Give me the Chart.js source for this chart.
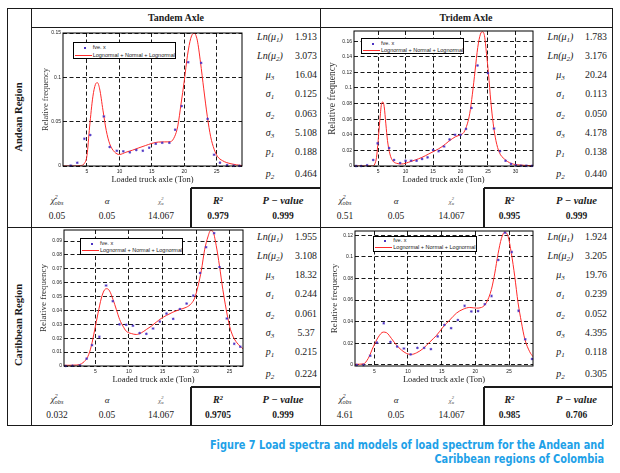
<!DOCTYPE html>
<html>
<head>
<meta charset="utf-8">
<script src="https://cdn.jsdelivr.net/npm/chart.js@4.4.1/dist/chart.umd.min.js"></script>
<style>
  html, body { margin: 0; padding: 0; background: #fff; }
  #page { position: relative; width: 620px; height: 473px; overflow: hidden; font-family: "Liberation Serif", serif; color: #1a1a1a; }
  .t { position: absolute; transform: translate(-50%, -50%); white-space: nowrap; line-height: 1; }
  .hl, .vl { position: absolute; background: #1a1a1a; }
  canvas { position: absolute; }
  .head { font-weight: bold; font-size: 10px; }
  .region { font-weight: bold; font-size: 10.5px; transform: translate(-50%, -50%) rotate(-90deg); }
  .plab { font-style: italic; font-size: 10px; }
  .pval { font-size: 9.8px; }
  .slab { font-size: 9px; font-style: italic; }
  .sval { font-size: 9.5px; }
  .bold { font-weight: bold; }
  .tiny { font-size: 6.5px; color: #444; }
  sub { font-size: 70%; vertical-align: -0.3em; line-height: 0; }
  sup { font-size: 70%; vertical-align: 0.45em; line-height: 0; }
  .st { display: inline-flex; flex-direction: column; vertical-align: middle; font-size: 70%; line-height: 1; font-style: italic; }
  .lg { position: absolute; border: 1px solid #000; background: #fff; box-sizing: border-box; font-family: "Liberation Sans", sans-serif; font-size: 5.5px; }
  .lg .mk { position: absolute; width: 2px; height: 2px; background: #4b32c3; }
  .lg .ln { position: absolute; height: 1px; background: #ff2a2a; }
  .lg .tx { position: absolute; line-height: 1; white-space: nowrap; }
  .cap { position: absolute; right: 16px; font-family: "DejaVu Sans Condensed", sans-serif; font-weight: bold; font-size: 12.5px; color: #1ea1e8; white-space: nowrap; transform-origin: right center; transform: scaleX(0.87); line-height: 1; }
</style>
</head>
<body>
<div id="page"></div>
<script>
// ---- Data ----
const andeanTandemObsX = [2.5, 3.5, 4.6, 5.5, 7.6, 8.5, 9.6, 10.6, 11.6, 12.6, 13.6, 14.6, 15.6, 16.6, 17.7, 18.6, 19.6, 20.6, 22.6, 23.6, 24.6, 25.5, 26.6, 27.6, 28.5];
const andeanTandemObsY = [0.0005, 0.0037, 0.0307, 0.0349, 0.0559, 0.0214, 0.0172, 0.0165, 0.0154, 0.018, 0.0172, 0.0206, 0.0251, 0.0262, 0.0262, 0.0409, 0.0675, 0.117, 0.1163, 0.0532, 0.0127, 0.0037, 0.001, 0.0003, 0.0002];
const andeanTandemFitX = [1.3, 3, 4, 4.6, 5.0, 5.4, 5.9, 6.3, 6.6, 6.95, 7.46, 7.97, 8.5, 9.26, 10, 11, 12, 13, 14, 15, 16, 17, 17.9, 18.5, 19.0, 19.5, 20.0, 20.5, 21.0, 21.5, 22.0, 22.5, 23.0, 23.55, 24.07, 24.6, 25.1, 25.9, 27.2, 28.9];
const andeanTandemFitY = [0, 0, 0.0005, 0.003, 0.012, 0.044, 0.078, 0.092, 0.094, 0.087, 0.063, 0.040, 0.025, 0.0157, 0.013, 0.0155, 0.0178, 0.0205, 0.023, 0.0255, 0.027, 0.0272, 0.0275, 0.033, 0.045, 0.07, 0.096, 0.125, 0.144, 0.150, 0.142, 0.117, 0.087, 0.056, 0.033, 0.019, 0.011, 0.006, 0.0025, 0.0005];
const andeanTandemXTicks = [5, 10, 15, 20, 25];
const andeanTandemYTicks = [0, 0.05, 0.1, 0.15];

const andeanTridemObsX = [1.0, 1.9, 3.0, 4.1, 4.9, 7.0, 7.9, 9.0, 10.0, 11.0, 12.0, 13.0, 14.0, 15.0, 16.0, 17.0, 18.0, 19.0, 20.0, 21.0, 22.0, 23.1, 25.0, 26.1, 27.2, 28.2, 29.2, 30.1, 31.0, 32.0, 33.0];
const andeanTridemObsY = [0, 0, 0.001, 0.0077, 0.029, 0.023, 0.0077, 0.0038, 0.0068, 0.0068, 0.0068, 0.009, 0.011, 0.0205, 0.019, 0.025, 0.034, 0.040, 0.040, 0.0475, 0.0744, 0.1288, 0.119, 0.048, 0.019, 0.0068, 0.0026, 0.001, 0.0005, 0.0003, 0.0002];
const andeanTridemFitX = [0.6, 4.0, 4.39, 4.7, 5.0, 5.3, 5.6, 5.86, 6.1, 6.4, 6.7, 7.14, 7.63, 8.37, 9.3, 10.5, 11.74, 12.97, 14.2, 15.4, 16.64, 17.87, 19.1, 20.0, 20.6, 21.24, 21.67, 22.16, 22.65, 23.14, 23.63, 24.0, 24.36, 24.73, 25.1, 25.5, 25.96, 26.45, 27.06, 27.98, 29.2, 30.7, 33.2];
const andeanTridemFitY = [0, 0, 0.0026, 0.011, 0.0325, 0.058, 0.079, 0.082, 0.076, 0.054, 0.0325, 0.0154, 0.0068, 0.0034, 0.0026, 0.0047, 0.0077, 0.011, 0.0154, 0.0197, 0.0248, 0.0317, 0.0376, 0.040, 0.043, 0.054, 0.067, 0.092, 0.122, 0.152, 0.169, 0.172, 0.167, 0.144, 0.118, 0.084, 0.054, 0.0325, 0.0175, 0.009, 0.0034, 0.0013, 0.0004];
const andeanTridemXTicks = [5, 10, 15, 20, 25, 30];
const andeanTridemYTicks = [0, 0.02, 0.04, 0.06, 0.08, 0.1, 0.12, 0.14, 0.16];

const caribTandemObsX = [0.6, 1.6, 2.7, 3.7, 4.5, 5.6, 6.6, 7.6, 8.6, 9.6, 10.6, 11.6, 12.6, 13.6, 14.6, 15.6, 16.6, 17.6, 18.6, 19.6, 20.6, 21.5, 22.7, 23.5, 24.6, 25.7, 26.6];
const caribTandemObsY = [0, 0.0002, 0.0005, 0.0053, 0.015, 0.021, 0.058, 0.0467, 0.030, 0.0297, 0.029, 0.0237, 0.0232, 0.027, 0.032, 0.0378, 0.034, 0.041, 0.045, 0.0507, 0.067, 0.0856, 0.0957, 0.0713, 0.0342, 0.016, 0.0139];
const caribTandemFitX = [0.33, 2.17, 3.16, 3.9, 4.4, 4.9, 5.4, 5.9, 6.39, 6.74, 7.13, 7.63, 8.13, 8.62, 9.12, 9.6, 10.36, 11.1, 11.85, 12.6, 13.34, 14.08, 14.8, 15.57, 16.56, 17.56, 18.55, 19.3, 19.8, 20.29, 20.8, 21.28, 21.77, 22.17, 22.52, 23.0, 23.5, 24.0, 24.5, 25.0, 25.5, 26.1, 27.0];
const caribTandemFitY = [0.0005, 0.0007, 0.0024, 0.007, 0.0144, 0.026, 0.038, 0.049, 0.055, 0.0557, 0.054, 0.048, 0.0407, 0.0335, 0.0287, 0.0251, 0.0234, 0.0227, 0.0239, 0.0263, 0.0287, 0.0316, 0.0342, 0.0364, 0.0388, 0.0407, 0.0423, 0.045, 0.049, 0.0574, 0.069, 0.0837, 0.093, 0.0976, 0.0969, 0.087, 0.072, 0.055, 0.0407, 0.0287, 0.0215, 0.0167, 0.0124];
const caribTandemXTicks = [5, 10, 15, 20, 25];
const caribTandemYTicks = [0, 0.01, 0.02, 0.03, 0.04, 0.05, 0.06, 0.07, 0.08, 0.09];

const caribTridemObsX = [2.4, 3.4, 4.4, 5.4, 6.4, 7.4, 8.4, 9.4, 10.4, 11.4, 12.4, 13.4, 14.4, 15.4, 16.4, 17.4, 18.4, 19.4, 20.4, 21.4, 22.4, 23.4, 24.4, 25.4, 26.4, 27.4, 28.4];
const caribTridemObsY = [0, 0, 0.0085, 0.0207, 0.0386, 0.0213, 0.017, 0.0152, 0.0097, 0.0158, 0.0158, 0.0146, 0.0264, 0.037, 0.034, 0.0416, 0.0547, 0.0495, 0.0498, 0.0562, 0.0638, 0.0972, 0.1224, 0.1045, 0.0501, 0.0237, 0.0055];
const caribTridemFitX = [2.14, 3.37, 4.1, 4.85, 5.6, 6.33, 6.83, 7.57, 8.3, 9.05, 9.79, 10.5, 11.27, 12.26, 13.25, 14.23, 15.2, 16.2, 17.2, 18.19, 19.17, 20.16, 20.9, 21.64, 22.38, 22.88, 23.37, 23.86, 24.36, 24.85, 25.35, 25.84, 26.33, 26.83, 27.32, 28.06, 28.55];
const caribTridemFitY = [0.0006, 0.0009, 0.006, 0.0167, 0.0258, 0.0304, 0.0298, 0.0243, 0.0182, 0.0137, 0.0106, 0.0097, 0.0112, 0.0152, 0.0213, 0.0273, 0.035, 0.0416, 0.048, 0.0516, 0.0532, 0.0526, 0.0532, 0.0577, 0.0699, 0.085, 0.103, 0.117, 0.123, 0.119, 0.103, 0.082, 0.0577, 0.0395, 0.0243, 0.0122, 0.0076];
const caribTridemXTicks = [5, 10, 15, 20, 25];
const caribTridemYTicks = [0, 0.02, 0.04, 0.06, 0.08, 0.1, 0.12];

// model parameters: Ln(mu1), Ln(mu2), mu3, s1, s2, s3, p1, p2
const andeanTandemParams = ['1.913', '3.073', '16.04', '0.125', '0.063', '5.108', '0.188', '0.464'];
const andeanTridemParams = ['1.783', '3.176', '20.24', '0.113', '0.050', '4.178', '0.138', '0.440'];
const caribTandemParams = ['1.955', '3.108', '18.32', '0.244', '0.061', '5.37', '0.215', '0.224'];
const caribTridemParams = ['1.924', '3.205', '19.76', '0.239', '0.052', '4.395', '0.118', '0.305'];

// goodness of fit: chi2 obs, alpha, chi2 alpha, R2, P-value
const andeanTandemStats = ['0.05', '0.05', '14.067', '0.979', '0.999'];
const andeanTridemStats = ['0.51', '0.05', '14.067', '0.995', '0.999'];
const caribTandemStats = ['0.032', '0.05', '14.067', '0.9705', '0.999'];
const caribTridemStats = ['4.61', '0.05', '14.067', '0.985', '0.706'];

const paramLabels = [
  'Ln(μ<sub>1</sub>)', 'Ln(μ<sub>2</sub>)', 'μ<sub>3</sub>', 'σ<sub>1</sub>',
  'σ<sub>2</sub>', 'σ<sub>3</sub>', 'p<sub>1</sub>', 'p<sub>2</sub>'
];
const statLabels = [
  '<span class="slab">χ<span class="st"><span>2</span><span>obs</span></span></span>',
  '<span class="slab">α</span>',
  '<span class="tiny"><i>χ</i><span class="st"><span>2</span><span>α</span></span></span>',
  '<b><i style="font-size:10px">R<sup>2</sup></i></b>',
  '<b><i style="font-size:10.5px">P − value</i></b>'
];
const legendLabels = ['fve. x', 'Lognormal + Normal + Lognormal'];

// ---- Layout ----
const page = document.getElementById('page');

const panels = [
  { obsX: andeanTandemObsX, obsY: andeanTandemObsY, fitX: andeanTandemFitX, fitY: andeanTandemFitY,
    xTicks: andeanTandemXTicks, yTicks: andeanTandemYTicks, params: andeanTandemParams, stats: andeanTandemStats,
    plot: [63, 31, 242, 166], xMin: 1.3, xMax: 28.9, yMin: 0, yMax: 0.15, titleX: 45.7, ySize: 8.3,
    legend: [72.7, 42.3, 103.5, 17], col: 0, row: 0 },
  { obsX: andeanTridemObsX, obsY: andeanTridemObsY, fitX: andeanTridemFitX, fitY: andeanTridemFitY,
    xTicks: andeanTridemXTicks, yTicks: andeanTridemYTicks, params: andeanTridemParams, stats: andeanTridemStats,
    plot: [354, 29, 533, 166], xMin: 0.6, xMax: 33.2, yMin: 0, yMax: 0.173, titleX: 333, ySize: 9.6,
    legend: [361, 38.3, 103, 15.7], col: 1, row: 0 },
  { obsX: caribTandemObsX, obsY: caribTandemObsY, fitX: caribTandemFitX, fitY: caribTandemFitY,
    xTicks: caribTandemXTicks, yTicks: caribTandemYTicks, params: caribTandemParams, stats: caribTandemStats,
    plot: [64, 228, 243, 366], xMin: 0.33, xMax: 27, yMin: 0, yMax: 0.098, titleX: 43.3, ySize: 9,
    legend: [80, 238.3, 103.3, 16.7], col: 0, row: 1 },
  { obsX: caribTridemObsX, obsY: caribTridemObsY, fitX: caribTridemFitX, fitY: caribTridemFitY,
    xTicks: caribTridemXTicks, yTicks: caribTridemYTicks, params: caribTridemParams, stats: caribTridemStats,
    plot: [355, 229, 533, 366], xMin: 2.14, xMax: 28.55, yMin: -0.001, yMax: 0.124, titleX: 335, ySize: 9.2,
    legend: [373.3, 235.7, 103.4, 16], col: 1, row: 1 }
];

const rowTops = [27, 227];
const statLines = [188, 387];
const paramOffsets = [9.7, 28.9, 48.2, 67, 86.6, 105.5, 124.7, 147.3];
const paramLabelX = [270, 560.5];
const paramValueX = [306, 596];
const statX = [[57, 107, 161, 218, 283], [345, 396, 451.5, 509.5, 576.5]];
const statBoxX = [191, 484];
const colRight = [320, 612];

function put(html, x, y, cls) {
  const d = document.createElement('div');
  d.className = 't ' + (cls || '');
  d.style.left = x + 'px';
  d.style.top = y + 'px';
  d.innerHTML = html;
  page.appendChild(d);
  return d;
}

function hline(x1, x2, y, w) {
  const d = document.createElement('div');
  d.className = 'hl';
  w = w || 1;
  d.style.left = x1 + 'px'; d.style.width = (x2 - x1) + 'px';
  d.style.top = (y - w / 2) + 'px'; d.style.height = w + 'px';
  page.appendChild(d);
}

function vline(x, y1, y2, w) {
  const d = document.createElement('div');
  d.className = 'vl';
  w = w || 1;
  d.style.top = y1 + 'px'; d.style.height = (y2 - y1) + 'px';
  d.style.left = (x - w / 2) + 'px'; d.style.width = w + 'px';
  page.appendChild(d);
}

// table frame
hline(7, 612, 8);
hline(7, 612, 425);
vline(7, 8, 425);
vline(612, 8, 425);
vline(31, 8, 425);
vline(320, 8, 425);
hline(31, 612, 27);
hline(7, 612, 227);
statLines.forEach((y, r) => {
  const bottom = r === 0 ? 227 : 425;
  statBoxX.forEach((x, c) => {
    hline(x, colRight[c], y, 1.3);
    vline(x, y, bottom, 1.3);
  });
});

put('Tandem Axle', 176, 18, 'head');
put('Tridem Axle', 466, 18, 'head');
put('Andean Region', 19, 117, 'region');
put('Caribbean Region', 19, 325, 'region');

// solid frame around each plot area
const framePlugin = {
  id: 'frame',
  afterDatasetsDraw(chart) {
    const { ctx, chartArea: a } = chart;
    ctx.save();
    ctx.strokeStyle = '#000';
    ctx.lineWidth = 1;
    ctx.strokeRect(a.left, a.top, a.right - a.left, a.bottom - a.top);
    ctx.restore();
  }
};

function toPoints(xs, ys) {
  return xs.map((x, i) => ({ x: x, y: ys[i] }));
}

function buildPanel(p) {
  const [pl, pt, pr, pb] = p.plot;
  const half = p.ySize * 1.2 / 2;
  const left = Math.round(p.titleX - half);
  const yW = pl - left;
  const padTop = 3, padRight = 3, xH = 19;
  const top = pt - padTop;
  const width = pr + padRight - left;
  const height = pb + xH - top;

  const cv = document.createElement('canvas');
  cv.width = width; cv.height = height;
  cv.style.left = left + 'px'; cv.style.top = top + 'px';
  cv.style.width = width + 'px'; cv.style.height = height + 'px';
  page.appendChild(cv);

  const tickFont = { family: 'Liberation Sans', size: 5 };
  new Chart(cv, {
    type: 'scatter',
    data: {
      datasets: [
        {
          label: legendLabels[0],
          data: toPoints(p.obsX, p.obsY),
          pointStyle: 'star',
          pointRadius: 1.3,
          borderColor: '#4b32c3',
          backgroundColor: '#4b32c3',
          borderWidth: 0.8,
          clip: false
        },
        {
          type: 'line',
          label: legendLabels[1],
          data: toPoints(p.fitX, p.fitY),
          borderColor: '#ff2a2a',
          borderWidth: 1,
          pointRadius: 0,
          fill: false,
          cubicInterpolationMode: 'monotone'
        }
      ]
    },
    options: {
      responsive: false,
      maintainAspectRatio: false,
      animation: false,
      events: [],
      layout: { padding: { top: padTop, right: padRight, left: 0, bottom: 0 }, autoPadding: false },
      plugins: { legend: { display: false }, tooltip: { enabled: false } },
      scales: {
        x: {
          type: 'linear',
          min: p.xMin,
          max: p.xMax,
          afterFit: s => { s.height = xH; },
          afterBuildTicks: s => { s.ticks = p.xTicks.map(v => ({ value: v })); },
          ticks: { font: tickFont, color: '#222', padding: 3, maxRotation: 0, autoSkip: false, callback: v => String(v) },
          grid: { color: '#000', lineWidth: 0.9, drawTicks: false },
          border: { display: false, dash: [4, 2.5] },
          title: { display: true, text: 'Loaded truck axle (Ton)', color: '#1a1a1a', padding: 0,
                   font: { family: 'Liberation Serif', size: 8.5 } }
        },
        y: {
          min: p.yMin,
          max: p.yMax,
          afterFit: s => { s.width = yW; },
          afterBuildTicks: s => { s.ticks = p.yTicks.map(v => ({ value: v })); },
          ticks: { font: tickFont, color: '#222', padding: 2, autoSkip: false, callback: v => String(v) },
          grid: { color: '#000', lineWidth: 0.9, drawTicks: false },
          border: { display: false, dash: [4, 2.5] },
          title: { display: true, text: 'Relative frequency', color: '#333', padding: 0,
                   font: { family: 'Liberation Serif', size: p.ySize } }
        }
      }
    },
    plugins: [framePlugin]
  });

  // legend box inside the plot
  const [lx, ly, lw, lh] = p.legend;
  const lg = document.createElement('div');
  lg.className = 'lg';
  lg.style.left = lx + 'px'; lg.style.top = ly + 'px';
  lg.style.width = lw + 'px'; lg.style.height = lh + 'px';
  const r1 = lh * 0.3, r2 = lh * 0.72;
  lg.innerHTML =
    '<span class="mk" style="left:10px;top:' + (r1 - 1) + 'px"></span>' +
    '<span class="tx" style="left:19px;top:' + (r1 - 3) + 'px">' + legendLabels[0] + '</span>' +
    '<span class="ln" style="left:1px;width:17px;top:' + (r2 - 1) + 'px"></span>' +
    '<span class="tx" style="left:19px;top:' + (r2 - 3) + 'px">' + legendLabels[1] + '</span>';
  page.appendChild(lg);

  // parameter column
  const rowTop = rowTops[p.row];
  paramLabels.forEach((lab, i) => {
    const y = rowTop + paramOffsets[i];
    put(lab, paramLabelX[p.col], y, 'plab');
    put(p.params[i], paramValueX[p.col], y, 'pval');
  });

  // fit statistics
  const sy = statLines[p.row];
  statLabels.forEach((lab, i) => {
    put(lab, statX[p.col][i], sy + 10.5, '');
    put(p.stats[i], statX[p.col][i], sy + 28.7, i >= 3 ? 'sval bold' : 'sval');
  });
}

panels.forEach(buildPanel);

// caption
const cap1 = document.createElement('div');
cap1.className = 'cap';
cap1.style.top = '439px';
cap1.textContent = 'Figure 7 Load spectra and models of load spectrum for the Andean and';
page.appendChild(cap1);
const cap2 = document.createElement('div');
cap2.className = 'cap';
cap2.style.top = '453px';
cap2.textContent = 'Caribbean regions of Colombia';
page.appendChild(cap2);
</script>
</body>
</html>
